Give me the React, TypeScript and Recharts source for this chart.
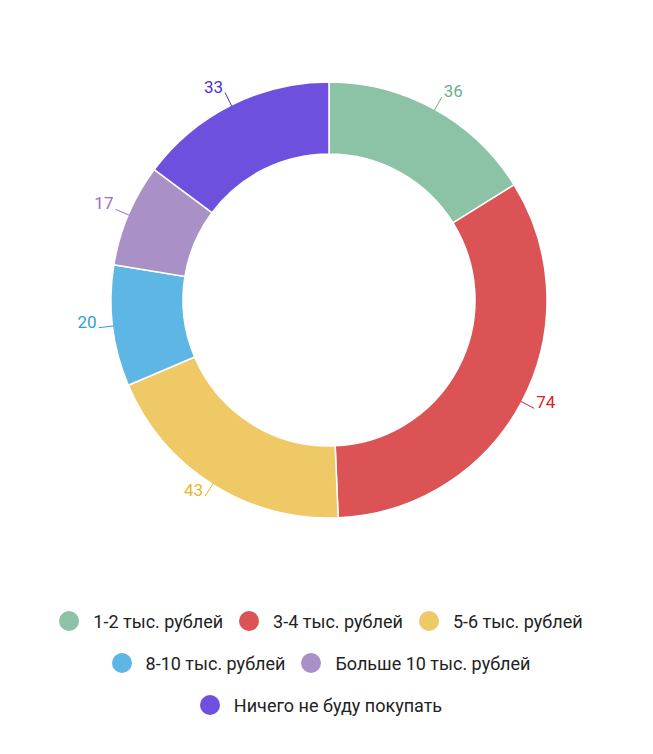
import { PieChart, Pie, Cell } from "recharts";

const categories = [
  "1-2 тыс. рублей",
  "3-4 тыс. рублей",
  "5-6 тыс. рублей",
  "8-10 тыс. рублей",
  "Больше 10 тыс. рублей",
  "Ничего не буду покупать",
];
const values = [36, 74, 43, 20, 17, 33];
const colors = ["#8cc3a6", "#dc5356", "#f0c967", "#5db6e4", "#a990c7", "#6d51de"];
const labelColors = ["#6bb08c", "#d2262b", "#e8b62a", "#2b9fe0", "#9a6fc0", "#4a2fd8"];

const data = categories.map((name, i) => ({ name, value: values[i] }));

const RADIAN = Math.PI / 180;

// connector goes radially out of the slice, text sits at its end, anchored by side
const renderLabel = (props: any) => {
  const { cx, cy, midAngle, outerRadius, value, index } = props;
  const cos = Math.cos(-midAngle * RADIAN);
  const sin = Math.sin(-midAngle * RADIAN);
  const x1 = cx + (outerRadius - 1) * cos;
  const y1 = cy + (outerRadius - 1) * sin;
  const x2 = cx + (outerRadius + 14) * cos;
  const y2 = cy + (outerRadius + 14) * sin;
  const right = cos >= 0;
  const c = labelColors[index];
  return (
    <g>
      <line x1={x1} y1={y1} x2={x2} y2={y2} stroke={c} strokeWidth={1} />
      <text
        x={x2 + (right ? 2 : -2)}
        y={y2 - 6}
        fill={c}
        fontSize={17}
        fontFamily="Roboto"
        textAnchor={right ? "start" : "end"}
        dominantBaseline="central"
      >
        {value}
      </text>
    </g>
  );
};

export default function App() {
  return (
    <div style={{ width: 637, height: 738, background: "#fff" }}>
      <PieChart width={637} height={602} margin={{ top: 0, right: 0, bottom: 0, left: 0 }}>
        <Pie
          data={data}
          dataKey="value"
          nameKey="name"
          cx={321}
          cy={292}
          innerRadius={146}
          outerRadius={218}
          startAngle={90}
          endAngle={-270}
          stroke="#fff"
          strokeWidth={1.5}
          label={renderLabel}
          labelLine={false}
          isAnimationActive={false}
        >
          {data.map((d, i) => (
            <Cell key={d.name} fill={colors[i]} />
          ))}
        </Pie>
      </PieChart>
      <div
        style={{
          width: 600,
          marginLeft: 13,
          display: "flex",
          flexWrap: "wrap",
          justifyContent: "center",
          rowGap: 20,
          fontFamily: "Roboto",
          fontSize: 18,
          color: "#222",
        }}
      >
        {categories.map((name, i) => (
          <div key={name} style={{ display: "flex", alignItems: "center", margin: "0 8px", height: 22 }}>
            <span
              style={{
                width: 20,
                height: 20,
                borderRadius: "50%",
                background: colors[i],
                display: "inline-block",
                marginRight: 14,
              }}
            />
            <span>{name}</span>
          </div>
        ))}
      </div>
    </div>
  );
}
